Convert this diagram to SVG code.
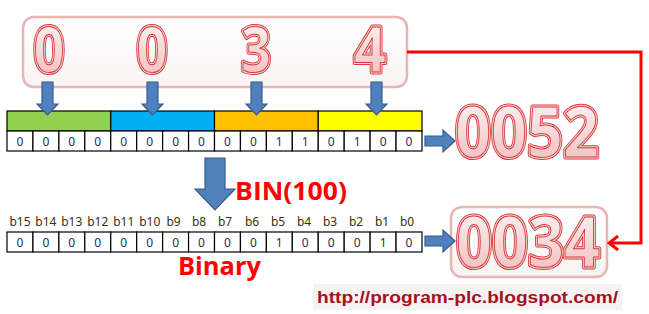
<svg xmlns="http://www.w3.org/2000/svg" width="649" height="314" viewBox="0 0 649 314">
<defs>
<linearGradient id="pinkfill" x1="0" y1="0" x2="0" y2="1">
<stop offset="0" stop-color="#ffffff"/>
<stop offset="1" stop-color="#f0b4b4"/>
</linearGradient>
<linearGradient id="boxfill" x1="0" y1="0" x2="0" y2="1">
<stop offset="0" stop-color="#ffffff"/>
<stop offset="1" stop-color="#f8f4f4"/>
</linearGradient>
<marker id="openhead" viewBox="0 0 12 16" refX="10" refY="8" markerWidth="12" markerHeight="16" markerUnits="userSpaceOnUse" orient="auto">
<path d="M1,1 L10,8 L1,15" fill="none" stroke="#ff0000" stroke-width="3"/>
</marker>
</defs>
<style>
.frame{fill:url(#boxfill);stroke:#e8b4b4;stroke-width:2.5}
.big{font-family:"Open Sans","Liberation Sans",sans-serif;font-weight:bold;text-anchor:middle}
.o1{fill:none;stroke:#d7393c;stroke-width:5;stroke-linejoin:round}
.o2{fill:none;stroke:#f8d6d6;stroke-width:3;stroke-linejoin:round}
.o3{fill:url(#pinkfill);stroke:#d7393c;stroke-width:1;stroke-linejoin:round}
.cell{fill:#ffffff;stroke:#000000;stroke-width:1.2}
.band{stroke:#000000;stroke-width:1.2}
.ct{font-family:"Noto Sans","Open Sans",sans-serif;font-size:12px;fill:#1c2f5e;text-anchor:middle}
.lbl{font-family:"Noto Sans","Open Sans",sans-serif;font-size:12px;fill:#3b3010;text-anchor:middle}
.blue{fill:#4f81bd;stroke:#385d8a;stroke-width:1.2}
.red{fill:none;stroke:#ff0000;stroke-width:3}
.redtxt{font-family:"Open Sans","Liberation Sans",sans-serif;font-weight:bold;fill:#ff0000}
</style>

<g id="bcd-digits">
<rect class="frame" x="23" y="17" width="384" height="70" rx="11"/>
<g class="big" font-size="62">
<text class="o1" x="49" y="72" textLength="31" lengthAdjust="spacingAndGlyphs">0</text>
<text class="o2" x="49" y="72" textLength="31" lengthAdjust="spacingAndGlyphs">0</text>
<text class="o3" x="49" y="72" textLength="31" lengthAdjust="spacingAndGlyphs">0</text>
<text class="o1" x="152" y="72" textLength="31" lengthAdjust="spacingAndGlyphs">0</text>
<text class="o2" x="152" y="72" textLength="31" lengthAdjust="spacingAndGlyphs">0</text>
<text class="o3" x="152" y="72" textLength="31" lengthAdjust="spacingAndGlyphs">0</text>
<text class="o1" x="256" y="72" textLength="30" lengthAdjust="spacingAndGlyphs">3</text>
<text class="o2" x="256" y="72" textLength="30" lengthAdjust="spacingAndGlyphs">3</text>
<text class="o3" x="256" y="72" textLength="30" lengthAdjust="spacingAndGlyphs">3</text>
<text class="o1" x="370" y="72" textLength="32" lengthAdjust="spacingAndGlyphs">4</text>
<text class="o2" x="370" y="72" textLength="32" lengthAdjust="spacingAndGlyphs">4</text>
<text class="o3" x="370" y="72" textLength="32" lengthAdjust="spacingAndGlyphs">4</text>
</g>
</g>

<g id="bcd-table">
<rect class="band" x="7" y="111" width="103.75" height="20" fill="#92d050"/>
<rect class="band" x="110.75" y="111" width="103.75" height="20" fill="#00b0f0"/>
<rect class="band" x="214.5" y="111" width="103.75" height="20" fill="#ffc000"/>
<rect class="band" x="318.25" y="111" width="103.75" height="20" fill="#ffff00"/>
<rect class="cell" x="7" y="131" width="25.94" height="20"/>
<rect class="cell" x="32.94" y="131" width="25.94" height="20"/>
<rect class="cell" x="58.88" y="131" width="25.94" height="20"/>
<rect class="cell" x="84.81" y="131" width="25.94" height="20"/>
<rect class="cell" x="110.75" y="131" width="25.94" height="20"/>
<rect class="cell" x="136.69" y="131" width="25.94" height="20"/>
<rect class="cell" x="162.63" y="131" width="25.94" height="20"/>
<rect class="cell" x="188.56" y="131" width="25.94" height="20"/>
<rect class="cell" x="214.5" y="131" width="25.94" height="20"/>
<rect class="cell" x="240.44" y="131" width="25.94" height="20"/>
<rect class="cell" x="266.38" y="131" width="25.94" height="20"/>
<rect class="cell" x="292.31" y="131" width="25.94" height="20"/>
<rect class="cell" x="318.25" y="131" width="25.94" height="20"/>
<rect class="cell" x="344.19" y="131" width="25.94" height="20"/>
<rect class="cell" x="370.13" y="131" width="25.94" height="20"/>
<rect class="cell" x="396.06" y="131" width="25.94" height="20"/>
<text class="ct" x="20" y="146">0</text>
<text class="ct" x="45.9" y="146">0</text>
<text class="ct" x="71.8" y="146">0</text>
<text class="ct" x="97.8" y="146">0</text>
<text class="ct" x="123.7" y="146">0</text>
<text class="ct" x="149.7" y="146">0</text>
<text class="ct" x="175.6" y="146">0</text>
<text class="ct" x="201.5" y="146">0</text>
<text class="ct" x="227.5" y="146">0</text>
<text class="ct" x="253.4" y="146">0</text>
<text class="ct" x="279.3" y="146">1</text>
<text class="ct" x="305.3" y="146">1</text>
<text class="ct" x="331.2" y="146">0</text>
<text class="ct" x="357.2" y="146">1</text>
<text class="ct" x="383.1" y="146">0</text>
<text class="ct" x="409" y="146">0</text>
</g>

<g id="bcd-result">
<g class="big" font-size="70">
<text class="o1" x="527" y="157" textLength="144" lengthAdjust="spacingAndGlyphs">0052</text>
<text class="o2" x="527" y="157" textLength="144" lengthAdjust="spacingAndGlyphs">0052</text>
<text class="o3" x="527" y="157" textLength="144" lengthAdjust="spacingAndGlyphs">0052</text>
</g>
</g>

<g id="bin-instruction">
<text class="redtxt" x="235" y="200" font-size="25" textLength="112" lengthAdjust="spacingAndGlyphs">BIN(100)</text>
</g>

<g id="bin-table">
<g class="lbl">
<text x="20" y="226">b15</text>
<text x="45.9" y="226">b14</text>
<text x="71.8" y="226">b13</text>
<text x="97.8" y="226">b12</text>
<text x="123.7" y="226">b11</text>
<text x="149.7" y="226">b10</text>
<text x="173.6" y="226">b9</text>
<text x="199" y="226">b8</text>
<text x="225" y="226">b7</text>
<text x="252" y="226">b6</text>
<text x="278" y="226">b5</text>
<text x="304" y="226">b4</text>
<text x="330" y="226">b3</text>
<text x="356" y="226">b2</text>
<text x="382" y="226">b1</text>
<text x="407" y="226">b0</text>
</g>
<rect class="cell" x="7" y="232" width="25.94" height="20"/>
<rect class="cell" x="32.94" y="232" width="25.94" height="20"/>
<rect class="cell" x="58.88" y="232" width="25.94" height="20"/>
<rect class="cell" x="84.81" y="232" width="25.94" height="20"/>
<rect class="cell" x="110.75" y="232" width="25.94" height="20"/>
<rect class="cell" x="136.69" y="232" width="25.94" height="20"/>
<rect class="cell" x="162.63" y="232" width="25.94" height="20"/>
<rect class="cell" x="188.56" y="232" width="25.94" height="20"/>
<rect class="cell" x="214.5" y="232" width="25.94" height="20"/>
<rect class="cell" x="240.44" y="232" width="25.94" height="20"/>
<rect class="cell" x="266.38" y="232" width="25.94" height="20"/>
<rect class="cell" x="292.31" y="232" width="25.94" height="20"/>
<rect class="cell" x="318.25" y="232" width="25.94" height="20"/>
<rect class="cell" x="344.19" y="232" width="25.94" height="20"/>
<rect class="cell" x="370.13" y="232" width="25.94" height="20"/>
<rect class="cell" x="396.06" y="232" width="25.94" height="20"/>
<text class="ct" x="20" y="247">0</text>
<text class="ct" x="45.9" y="247">0</text>
<text class="ct" x="71.8" y="247">0</text>
<text class="ct" x="97.8" y="247">0</text>
<text class="ct" x="123.7" y="247">0</text>
<text class="ct" x="149.7" y="247">0</text>
<text class="ct" x="175.6" y="247">0</text>
<text class="ct" x="201.5" y="247">0</text>
<text class="ct" x="227.5" y="247">0</text>
<text class="ct" x="253.4" y="247">0</text>
<text class="ct" x="279.3" y="247">1</text>
<text class="ct" x="305.3" y="247">0</text>
<text class="ct" x="331.2" y="247">0</text>
<text class="ct" x="357.2" y="247">0</text>
<text class="ct" x="383.1" y="247">1</text>
<text class="ct" x="409" y="247">0</text>
<text class="redtxt" x="178" y="275" font-size="25" textLength="83" lengthAdjust="spacingAndGlyphs">Binary</text>
</g>

<g id="bin-result">
<rect class="frame" x="451" y="207" width="156" height="70" rx="11"/>
<g class="big" font-size="70">
<text class="o1" x="528" y="267" textLength="144" lengthAdjust="spacingAndGlyphs">0034</text>
<text class="o2" x="528" y="267" textLength="144" lengthAdjust="spacingAndGlyphs">0034</text>
<text class="o3" x="528" y="267" textLength="144" lengthAdjust="spacingAndGlyphs">0034</text>
</g>
</g>

<g id="url">
<rect x="313" y="284" width="309" height="26" fill="#f7f3f3"/>
<text x="317" y="303" font-family="'Liberation Sans',Arial,sans-serif" font-weight="bold" font-size="16" fill="#a8101c" textLength="301" lengthAdjust="spacingAndGlyphs">http://program-plc.blogspot.com/</text>
</g>

<g id="connectors">
<path class="blue" d="M42,82 H53 V104 H58 L47.5,115 L37,104 H42 Z"/>
<path class="blue" d="M147,82 H158 V104 H163 L152.5,115 L142,104 H147 Z"/>
<path class="blue" d="M251,82 H262 V104 H267 L256.5,115 L246,104 H251 Z"/>
<path class="blue" d="M371,82 H382 V104 H387 L376.5,115 L366,104 H371 Z"/>
<path class="blue" d="M205,158 H225 V189 H235 L215,210 L195,189 H205 Z"/>
<path class="blue" d="M425,136 H443 V130 L455,141 L443,152 V146 H425 Z"/>
<path class="blue" d="M425,236 H443 V230 L455,241 L443,252 V246 H425 Z"/>
<path class="red" d="M407,52 H641 V243 H609" marker-end="url(#openhead)"/>
</g>
</svg>
